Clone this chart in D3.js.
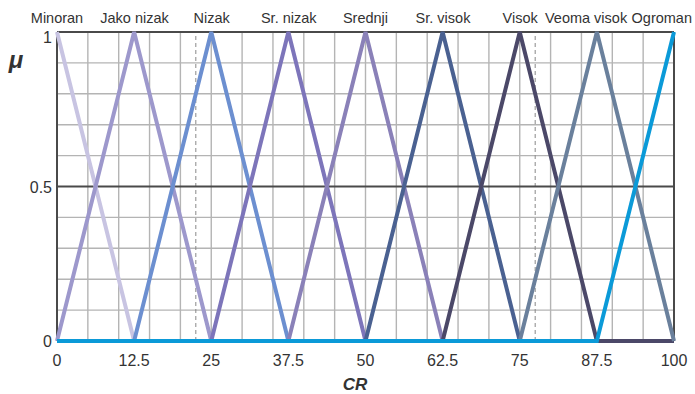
<!DOCTYPE html>
<html>
<head>
<meta charset="utf-8">
<script src="https://cdn.jsdelivr.net/npm/d3@7"></script>
<style>
  body { margin: 0; background: #fff; }
  svg text { font-family: "Liberation Sans", Arial, sans-serif; fill: #333; }
</style>
</head>
<body>
<svg id="chart" width="695" height="394"></svg>
<script>
// Fuzzy sets for CR: triangular membership functions centred on each peak
const setNames = ["Minoran", "Jako nizak", "Nizak", "Sr. nizak", "Srednji", "Sr. visok", "Visok", "Veoma visok", "Ogroman"];
const peaks = [0, 12.5, 25, 37.5, 50, 62.5, 75, 87.5, 100];
const setColors = ["#c8c4e2", "#9d98cc", "#6c8fd0", "#7d75ba", "#8a81b8", "#4a6191", "#4b4868", "#6a809c", "#0b9ad8"];
const xTicks = [0, 12.5, 25, 37.5, 50, 62.5, 75, 87.5, 100];
const yTicks = [0, 0.5, 1];
const yTickLabels = ["0", "0.5", "1"];
const markerLines = [22.5, 77.5];
const halfWidth = 12.5;

const svg = d3.select("#chart");
const x = d3.scaleLinear().domain([0, 100]).range([57, 674]);
const y = d3.scaleLinear().domain([0, 1]).range([341, 32]);

// grid
const grid = svg.append("g");
grid.selectAll("line.v").data(d3.range(5, 100, 5)).join("line")
  .attr("x1", d => x(d)).attr("x2", d => x(d))
  .attr("y1", y(0)).attr("y2", y(1))
  .attr("stroke", "#b4b4b4").attr("stroke-width", 1.4);
grid.selectAll("line.h").data(d3.range(1, 10).map(i => i / 10).filter(v => Math.abs(v - 0.5) > 1e-9)).join("line")
  .attr("x1", x(0)).attr("x2", x(100))
  .attr("y1", d => y(d)).attr("y2", d => y(d))
  .attr("stroke", "#b4b4b4").attr("stroke-width", 1.4);

// dashed marker lines
svg.append("g").selectAll("line").data(markerLines).join("line")
  .attr("x1", d => x(d)).attr("x2", d => x(d))
  .attr("y1", y(0)).attr("y2", y(1))
  .attr("stroke", "#888").attr("stroke-width", 1)
  .attr("stroke-dasharray", "4,3");

// frame and mid line
const frame = svg.append("g").attr("stroke", "#4a4a4a").attr("stroke-width", 2);
frame.append("line").attr("x1", x(0)).attr("x2", x(100)).attr("y1", y(1)).attr("y2", y(1));
frame.append("line").attr("x1", x(100)).attr("x2", x(100)).attr("y1", y(1)).attr("y2", y(0));
frame.append("line").attr("x1", x(0)).attr("x2", x(0)).attr("y1", y(1)).attr("y2", y(0));
frame.append("line").attr("x1", x(0)).attr("x2", x(100)).attr("y1", y(0.5)).attr("y2", y(0.5));

// membership functions, each defined over the full domain
function membership(c) {
  const pts = [0, c - halfWidth, c, c + halfWidth, 100]
    .filter(v => v >= 0 && v <= 100);
  const uniq = Array.from(new Set(pts)).sort((a, b) => a - b);
  return uniq.map(v => [v, Math.max(0, 1 - Math.abs(v - c) / halfWidth)]);
}
const line = d3.line().x(d => x(d[0])).y(d => y(d[1]));
svg.append("g").selectAll("path").data(peaks).join("path")
  .attr("d", c => line(membership(c)))
  .attr("fill", "none")
  .attr("stroke", (c, i) => setColors[i])
  .attr("stroke-width", 4)
  .attr("stroke-linejoin", "miter");

// set names above the peaks, shifted left where they would collide
const labels = svg.append("g").selectAll("text").data(setNames).join("text")
  .attr("x", (d, i) => x(peaks[i]))
  .attr("y", 23)
  .attr("text-anchor", "middle")
  .attr("font-size", 14.5)
  .text(d => d);
const nodes = labels.nodes();
let rightLimit = 692;
for (let i = nodes.length - 1; i >= 0; i--) {
  const bb = nodes[i].getBBox();
  let cx = bb.x + bb.width / 2;
  if (bb.x + bb.width > rightLimit) cx = rightLimit - bb.width / 2;
  d3.select(nodes[i]).attr("x", cx);
  rightLimit = cx - bb.width / 2 - 4;
}

// axes tick labels
svg.append("g").selectAll("text").data(xTicks).join("text")
  .attr("x", d => x(d)).attr("y", 366)
  .attr("text-anchor", "middle").attr("font-size", 16)
  .text(d => d);
svg.append("g").selectAll("text").data(yTicks).join("text")
  .attr("x", 52).attr("y", d => Math.max(y(d) + 6, 43))
  .attr("text-anchor", "end").attr("font-size", 16)
  .text((d, i) => yTickLabels[i]);

// axis titles
svg.append("text").attr("x", 16).attr("y", 68)
  .attr("text-anchor", "middle").attr("font-size", 24)
  .attr("font-weight", "bold").attr("font-style", "italic")
  .text("μ");
svg.append("text").attr("x", 355).attr("y", 390)
  .attr("text-anchor", "middle").attr("font-size", 17)
  .attr("font-weight", "bold").attr("font-style", "italic")
  .text("CR");
</script>
</body>
</html>
